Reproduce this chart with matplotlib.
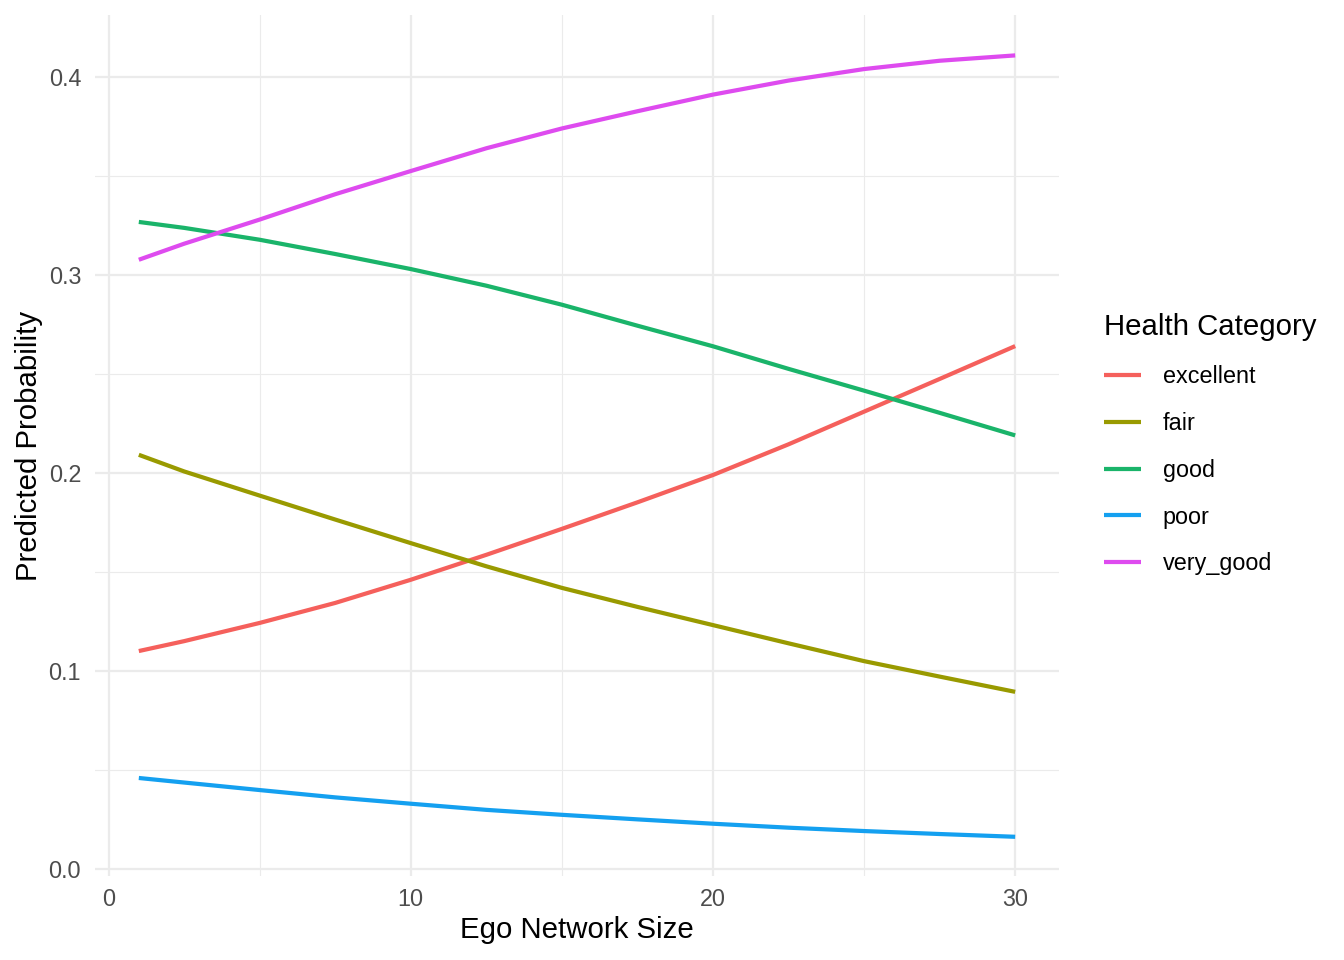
import matplotlib.pyplot as plt
import numpy as np

plt.rcParams['font.family'] = ['Liberation Sans', 'DejaVu Sans']

# values
ego_size = [1, 2.5, 5, 7.5, 10, 12.5, 15, 17.5, 20, 22.5, 25, 27.5, 30]
excellent = [0.1101, 0.1151, 0.1243, 0.1344, 0.1461, 0.1587, 0.1718, 0.1852,
             0.1990, 0.2145, 0.2310, 0.2475, 0.2641]
fair = [0.2092, 0.2008, 0.1886, 0.1765, 0.1646, 0.1529, 0.1420, 0.1324,
        0.1232, 0.1140, 0.1050, 0.0972, 0.0895]
good = [0.3268, 0.3238, 0.3178, 0.3106, 0.3030, 0.2946, 0.2850, 0.2744,
        0.2640, 0.2526, 0.2416, 0.2304, 0.2190]
poor = [0.0460, 0.0437, 0.0399, 0.0362, 0.0330, 0.0299, 0.0274, 0.0251,
        0.0229, 0.0209, 0.0192, 0.0177, 0.0163]
very_good = [0.3077, 0.3158, 0.3280, 0.3408, 0.3525, 0.3640, 0.3740, 0.3827,
             0.3911, 0.3982, 0.4040, 0.4082, 0.4109]

labels = ["excellent", "fair", "good", "poor", "very_good"]
series = [excellent, fair, good, poor, very_good]
colors = ["#F5605C", "#999A00", "#1AB46A", "#14A0F0", "#DE4BEF"]

fig = plt.figure(figsize=(1344 / 144, 960 / 144), dpi=144)
ax = fig.add_axes([95 / 1344, 1 - 876 / 960, (1059 - 95) / 1344, (876 - 15) / 960])

for lab, vals, c in zip(labels, series, colors):
    ax.plot(ego_size, vals, color=c, lw=2.1, label=lab, solid_capstyle="butt")

ax.set_xlim(-0.45, 31.45)
ax.set_ylim(-0.0035, 0.4313)
ax.set_xticks([0, 10, 20, 30])
ax.set_xticks([5, 15, 25], minor=True)
ax.set_yticks([0.0, 0.1, 0.2, 0.3, 0.4])
ax.set_yticks([0.05, 0.15, 0.25, 0.35], minor=True)
ax.set_yticklabels(["0.0", "0.1", "0.2", "0.3", "0.4"])

ax.grid(True, which="major", color="#EBEBEB", lw=1.1)
ax.grid(True, which="minor", color="#EBEBEB", lw=0.55)
ax.set_axisbelow(True)
for s in ax.spines.values():
    s.set_visible(False)
ax.tick_params(which="both", length=0, labelsize=11.7, labelcolor="#4D4D4D")
ax.tick_params(axis="x", pad=6)
ax.tick_params(axis="y", pad=7)

ax.set_xlabel("Ego Network Size", fontsize=14.7, labelpad=2.5)
ax.set_ylabel("Predicted Probability", fontsize=14.7, labelpad=2.5)

leg = ax.legend(loc="upper left", bbox_to_anchor=(1104 / 1344, 1 - 313 / 960),
                bbox_transform=fig.transFigure, frameon=False, fontsize=11.7,
                title="Health Category", title_fontsize=14.7, handlelength=1.6,
                handletextpad=0.9, labelspacing=1.02, borderaxespad=0,
                borderpad=0)
leg._legend_box.align = "left"
leg._legend_box.sep = 12

fig.savefig("out.png", dpi=144)
